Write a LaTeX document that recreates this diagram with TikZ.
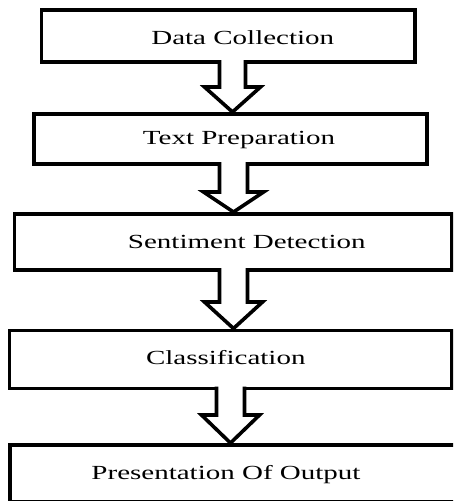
\documentclass[tikz,border=0pt]{standalone}
\usepackage{fontspec}
\setmainfont{Liberation Serif}
\usetikzlibrary{calc}
\tikzset{
  stepbox/.style={draw=black, line width=3.6pt, fill=white, rectangle, inner sep=0pt, outer sep=0pt},
  boxlabel/.style={font=\fontsize{20}{24}\selectfont, inner sep=0pt},
  blockarrow/.style={draw=black, line width=3.6pt, fill=white, line join=miter}
}
\newcommand{\wide}[1]{\scalebox{1.45}[1]{#1}}
% \flowarrow{from}{to}{cx}{head base y}{shaft half width}{head half width}
\newcommand{\flowarrow}[6]{%
  \draw[blockarrow] let \p1=(#1.south), \p2=(#2.north) in
    (#3-#5, \y1+1.8) -- (#3-#5, #4) -- (#3-#6, #4) -- (#3, \y2+2) --
    (#3+#6, #4) -- (#3+#5, #4) -- (#3+#5, \y1+1.8);}
\begin{document}
\begin{tikzpicture}[x=1pt, y=-1pt]
  \useasboundingbox (0,0) rectangle (453,501);
  \clip (0,0) rectangle (453,501);
  \node[stepbox, minimum width=373.5pt, minimum height=52pt,
        label={[boxlabel, xshift=14.5pt, yshift=-2pt]center:\wide{Data Collection}}]
        (b1) at (228.25,36) {};
  \node[stepbox, minimum width=393pt, minimum height=50pt,
        label={[boxlabel, xshift=8.5pt, yshift=-1pt]center:\wide{Text Preparation}}]
        (b2) at (230.5,139) {};
  \node[stepbox, minimum width=437.5pt, minimum height=56pt,
        label={[boxlabel, xshift=13.5pt, yshift=0pt]center:\wide{Sentiment Detection}}]
        (b3) at (233.25,242) {};
  \node[stepbox, minimum width=442.5pt, minimum height=58pt,
        label={[boxlabel, xshift=-5pt, yshift=1.5pt]center:\wide{Classification}}]
        (b4) at (230.75,359.5) {};
  \node[stepbox, minimum width=446pt, minimum height=57pt,
        label={[boxlabel, xshift=-7pt, yshift=-1pt]center:\wide{Presentation Of Output}}]
        (b5) at (233,473.5) {};
  \flowarrow{b1}{b2}{232.5}{87}{13}{28}
  \flowarrow{b2}{b3}{233.5}{192}{14}{30}
  \flowarrow{b3}{b4}{233.5}{302}{14}{29}
  \flowarrow{b4}{b5}{230.5}{415}{14}{29}
\end{tikzpicture}
\end{document}
